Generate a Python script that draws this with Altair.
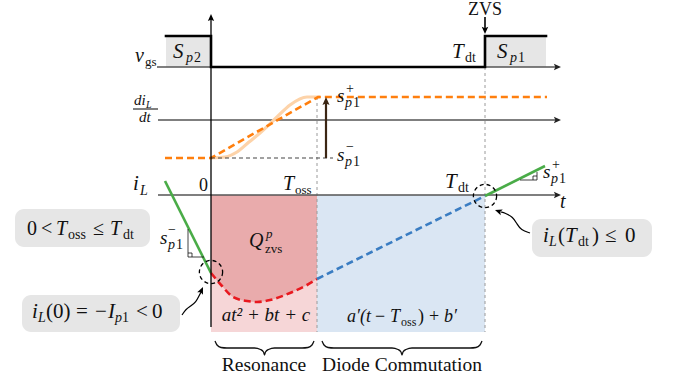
import altair as alt
import numpy as np
import pandas as pd

W, H = 673, 383

# ---- time axis (horizontal units measured from t = 0) ----
X0 = 211            # position of t = 0
T_OSS = 106
T_DT = 274
AX_START = 158
AX_END = 561

# ---- panel baselines (vertical units, top = 0) ----
Y_VGS = 67
Y_VGS_ON = 36
Y_DIDT = 120
Y_IL = 195
Y_BOTTOM = 332

# gate signal v_gs
vgs_t = [-45, 0, 0, T_DT, T_DT, 335]
vgs_v = [Y_VGS_ON, Y_VGS_ON, Y_VGS, Y_VGS, Y_VGS_ON, Y_VGS_ON]

# di_L/dt : slope before (s_p1^-) and after (s_p1^+)
S_MINUS = 158
S_PLUS = 97
didt_t = [-46, 0, 107, 336]
didt_v = [S_MINUS, S_MINUS, S_PLUS, S_PLUS]
smooth_t = [0, 14, 26, 38, 49, 66, 79, 96, 109]
smooth_v = [158, 157, 152, 142, 133, 117, 105, 97, 97]

# inductor current i_L
res_t = [0, 11, 22, 36, 46, 59, 79, 96, T_OSS]
res_v = [273, 286, 297, 301, 302, 300, 293, 285, 279]
dc_t = [T_OSS, T_DT]
dc_v = [279, 196]
before_t = [-46, 0]
before_v = [181, 273]
after_t = [T_DT, 334]
after_v = [196, 166]

FONT = "Liberation Serif, DejaVu Serif, serif"


def px(t):
    return X0 + t


X = alt.X("x:Q", scale=alt.Scale(domain=[0, W], nice=False, zero=False), axis=None)
Y = alt.Y("y:Q", scale=alt.Scale(domain=[0, H], reverse=True, nice=False, zero=False), axis=None)
X2 = alt.X2("x2:Q")
Y2 = alt.Y2("y2:Q")


def path_df(paths):
    rows = []
    for pid, pts in enumerate(paths):
        for k, (x, y) in enumerate(pts):
            rows.append({"pid": pid, "k": k, "x": x, "y": y})
    return pd.DataFrame(rows)


def lines(paths, color, width, dash=None, interp="linear", opacity=1.0, cap="butt"):
    kw = dict(color=color, strokeWidth=width, interpolate=interp, opacity=opacity, strokeCap=cap)
    if dash:
        kw["strokeDash"] = dash
    return alt.Chart(path_df(paths)).mark_line(**kw).encode(
        X, Y, detail="pid:N", order="k:Q"
    )


ARROW = "M0,0 L-0.75,1.7 L0,1.35 L0.75,1.7 Z"


def heads(tips, color, size=90):
    rows = []
    for x, y, dx, dy in tips:
        ang = float(np.degrees(np.arctan2(dx, -dy))) % 360
        rows.append({"x": x, "y": y, "ang": ang})
    return alt.Chart(pd.DataFrame(rows)).mark_point(
        shape=ARROW, filled=True, color=color, size=size, opacity=1, strokeWidth=0
    ).encode(X, Y, angle=alt.Angle("ang:Q", scale=None))


def rects(boxes, color, radius=0, opacity=1.0):
    df = pd.DataFrame([{"x": a, "x2": b, "y": c, "y2": d} for a, b, c, d in boxes])
    return alt.Chart(df).mark_rect(color=color, cornerRadius=radius, opacity=opacity).encode(
        X, X2, Y, Y2
    )


# ---- backgrounds ----
bg_res = rects([(px(0), px(T_OSS), Y_IL, Y_BOTTOM)], "#f6d6d7")
bg_dc = rects([(px(T_OSS), px(T_DT), Y_IL, Y_BOTTOM)], "#dae6f3")
gate_boxes = rects([(px(-45), px(0), Y_VGS_ON, Y_VGS), (px(T_DT), px(335), Y_VGS_ON, Y_VGS)], "#e6e6e6")
note_boxes = rects([(15, 150, 209, 247), (22, 180, 295, 332), (532, 652, 219, 257)], "#e6e6e6", radius=9)

charge_df = pd.DataFrame({"x": [px(t) for t in res_t], "y": res_v, "y2": [Y_IL] * len(res_t)})
charge = alt.Chart(charge_df).mark_area(color="#e9abac", interpolate="monotone").encode(X, Y, Y2)

# ---- guides ----
guides = lines(
    [[(px(T_OSS), S_PLUS), (px(T_OSS), Y_BOTTOM)], [(px(T_DT), Y_VGS), (px(T_DT), Y_BOTTOM)]],
    "#9a9a9a", 1, dash=[3, 3],
)
time_axes = lines(
    [[(157, Y_VGS), (AX_END - 5, Y_VGS)], [(AX_START, Y_DIDT), (AX_END - 5, Y_DIDT)],
     [(AX_START, Y_IL), (AX_END - 5, Y_IL)]],
    "#555555", 1.4,
)
axis_heads = heads([(AX_END, Y_VGS, 1, 0), (AX_END, Y_DIDT, 1, 0), (AX_END, Y_IL, 1, 0)], "#222222", 70)
v_axis = lines([[(px(0), 19), (px(0), 327)]], "#000000", 1.3)
v_head = heads([(px(0), 14, 0, -1)], "#000000", 70)

# ---- gate waveform ----
vgs_line = lines([[(px(t), v) for t, v in zip(vgs_t, vgs_v)]], "#000000", 2.6, cap="square")
zvs_arrow = lines([[(px(T_DT), 17), (px(T_DT), 29)]], "#000000", 1.6)
zvs_head = heads([(px(T_DT), 34, 0, 1)], "#000000", 75)

# ---- di/dt panel ----
didt_soft = lines([[(px(t), v) for t, v in zip(smooth_t, smooth_v)]], "#fdd3a9", 3.2, interp="monotone")
didt_line = lines([[(px(t), v) for t, v in zip(didt_t, didt_v)]], "#ff7f0e", 2.6, dash=[7, 4])
ref_line = lines([[(px(0), S_MINUS), (px(122), S_MINUS)]], "#444444", 1.2, dash=[4, 3])
jump = lines([[(px(115), S_MINUS), (px(115), S_PLUS + 6)]], "#3b2614", 2.2)
jump_head = heads([(px(115), S_PLUS, 0, -1)], "#3b2614", 90)
frac_bar = lines([[(133, 109), (158, 109)]], "#000000", 1)

# ---- i_L panel ----
green = lines(
    [[(px(t), v) for t, v in zip(before_t, before_v)], [(px(t), v) for t, v in zip(after_t, after_v)]],
    "#4aac48", 2.6,
)
res_line = lines([[(px(t), v) for t, v in zip(res_t, res_v)]], "#e8191f", 2.6, dash=[7, 4], interp="monotone")
dc_line = lines([[(px(t), v) for t, v in zip(dc_t, dc_v)]], "#3a7dc2", 2.6, dash=[7, 4])

slopes = lines(
    [[(188, 229), (188, 257), (204, 257)], [(188, 253), (192, 253), (192, 257)],
     [(520, 180), (537, 180), (537, 172)], [(533, 180), (533, 176), (537, 176)]],
    "#111111", 0.8,
)

circ_df = pd.DataFrame({"x": [px(0), px(T_DT)], "y": [272, 196]})
circles = alt.Chart(circ_df).mark_point(
    shape="circle", size=540, filled=False, color="#000000", strokeWidth=1.3, strokeDash=[4, 3], opacity=1
).encode(X, Y)

callouts = lines(
    [[(182, 315), (186, 309), (191, 306), (196, 302), (199, 296), (201, 292)],
     [(530, 233), (521, 230), (517, 224), (513, 217), (505, 213), (501, 212)]],
    "#000000", 1.2, interp="basis",
)
callout_heads = heads([(203, 287, 0.45, -1), (495, 210, -1, -0.35)], "#000000", 70)


# ---- braces ----
def brace(x0, x1, top=341, mid=348, tip=355):
    xm = (x0 + x1) / 2
    return [(x0, top), (x0 + 2, 345), (x0 + 6, 347.5), (x0 + 12, mid), (xm - 10, mid),
            (xm - 4, 349.5), (xm - 1, 352), (xm, tip), (xm + 1, 352), (xm + 4, 349.5),
            (xm + 10, mid), (x1 - 12, mid), (x1 - 6, 347.5), (x1 - 2, 345), (x1, top)]


braces = lines([brace(215, 314), brace(322, 482)], "#111111", 1.3, interp="monotone")

# ---- labels: (text, x, baseline, size, style, align) ----
labels = [
    ("ZVS", 485, 15, 18, "normal", "center"),
    ("v", 135, 62, 20, "italic", "left"), ("gs", 145, 66, 13, "normal", "left"),
    ("S", 173, 58, 21, "italic", "left"), ("p", 186, 62, 14, "italic", "left"), ("2", 194, 62, 14, "normal", "left"),
    ("S", 497, 58, 21, "italic", "left"), ("p", 510, 62, 14, "italic", "left"), ("1", 518, 62, 14, "normal", "left"),
    ("T", 452, 58, 21, "italic", "left"), ("dt", 465, 62, 14, "normal", "left"),
    ("di", 134, 105, 15, "italic", "left"), ("L", 146, 108, 10, "italic", "left"),
    ("dt", 139, 122, 15, "italic", "left"),
    ("s", 337, 102, 19, "italic", "left"), ("+", 346, 93, 14, "normal", "left"),
    ("p", 345, 107, 14, "italic", "left"), ("1", 353, 107, 14, "normal", "left"),
    ("s", 337, 161, 19, "italic", "left"), ("\u2212", 346, 151, 14, "normal", "left"),
    ("p", 345, 166, 14, "italic", "left"), ("1", 353, 166, 14, "normal", "left"),
    ("i", 133, 190, 21, "italic", "left"), ("L", 140, 195, 14, "italic", "left"),
    ("0", 199, 191, 18, "normal", "left"),
    ("T", 283, 190, 20, "italic", "left"), ("oss", 295, 194, 13, "normal", "left"),
    ("T", 445, 188, 21, "italic", "left"), ("dt", 458, 192, 14, "normal", "left"),
    ("t", 560, 208, 20, "italic", "left"),
    ("s", 543, 178, 19, "italic", "left"), ("+", 552, 169, 14, "normal", "left"),
    ("p", 551, 183, 14, "italic", "left"), ("1", 559, 183, 14, "normal", "left"),
    ("s", 160, 244, 19, "italic", "left"), ("\u2212", 168, 234, 14, "normal", "left"),
    ("p", 168, 249, 14, "italic", "left"), ("1", 176, 249, 14, "normal", "left"),
    ("Q", 249, 247, 20, "italic", "left"), ("p", 266, 238, 13, "italic", "left"),
    ("zvs", 265, 253, 13, "normal", "left"),
    ("at\u00b2 + bt + c", 266, 321, 19, "italic", "center"),
    ("a\u2032(t", 347, 322, 18, "italic", "left"), ("\u2212", 375, 322, 18, "normal", "left"),
    ("T", 390, 322, 18, "italic", "left"), ("oss", 401, 326, 12, "normal", "left"),
    (")", 418, 322, 18, "normal", "left"), ("+", 429, 322, 18, "normal", "left"),
    ("b\u2032", 444, 322, 18, "italic", "left"),
    ("Resonance", 264, 371, 19.5, "normal", "center"),
    ("Diode Commutation", 402, 371, 19.5, "normal", "center"),
    # 0 < T_oss <= T_dt
    ("0", 27, 235, 20, "normal", "left"), ("<", 41, 235, 20, "normal", "left"),
    ("T", 56, 235, 20, "italic", "left"), ("oss", 68, 239, 14, "normal", "left"),
    ("\u2264", 93, 235, 20, "normal", "left"),
    ("T", 110, 235, 20, "italic", "left"), ("dt", 123, 239, 14, "normal", "left"),
    # i_L(0) = -I_p1 < 0
    ("i", 32, 318, 21, "italic", "left"), ("L", 38, 322, 14, "italic", "left"),
    ("(0)", 46, 318, 21, "normal", "left"), ("=", 76, 318, 21, "normal", "left"),
    ("\u2212", 95, 318, 21, "normal", "left"), ("I", 108, 318, 21, "italic", "left"),
    ("p", 115, 322, 14, "italic", "left"), ("1", 122, 322, 14, "normal", "left"),
    ("<", 136, 318, 21, "normal", "left"), ("0", 152, 318, 21, "normal", "left"),
    # i_L(T_dt) <= 0
    ("i", 543, 242, 21, "italic", "left"), ("L", 549, 246, 14, "italic", "left"),
    ("(", 558, 242, 21, "normal", "left"), ("T", 565, 242, 21, "italic", "left"),
    ("dt", 578, 246, 14, "normal", "left"), (")", 592, 242, 21, "normal", "left"),
    ("\u2264", 605, 242, 21, "normal", "left"), ("0", 625, 242, 21, "normal", "left"),
]
lab_df = pd.DataFrame(labels, columns=["text", "x", "y", "size", "style", "align"])

text_layers = []
for (style, align), grp in lab_df.groupby(["style", "align"]):
    text_layers.append(
        alt.Chart(grp).mark_text(
            font=FONT, fontStyle=style, align=align, baseline="alphabetic", color="#111111"
        ).encode(X, Y, text="text:N", size=alt.Size("size:Q", scale=None, legend=None))
    )

chart = alt.layer(
    bg_res, bg_dc, charge, gate_boxes, note_boxes,
    guides, time_axes, axis_heads,
    didt_soft, didt_line, ref_line, jump, jump_head, frac_bar,
    green, res_line, dc_line, slopes, circles, callouts, callout_heads,
    vgs_line, zvs_arrow, zvs_head, v_axis, v_head, braces,
    *text_layers,
).properties(
    width=W, height=H, padding=0, autosize=alt.AutoSizeParams(type="none")
).configure_view(stroke=None)

chart.save("out.html", embed_options={"renderer": "svg", "actions": False})
